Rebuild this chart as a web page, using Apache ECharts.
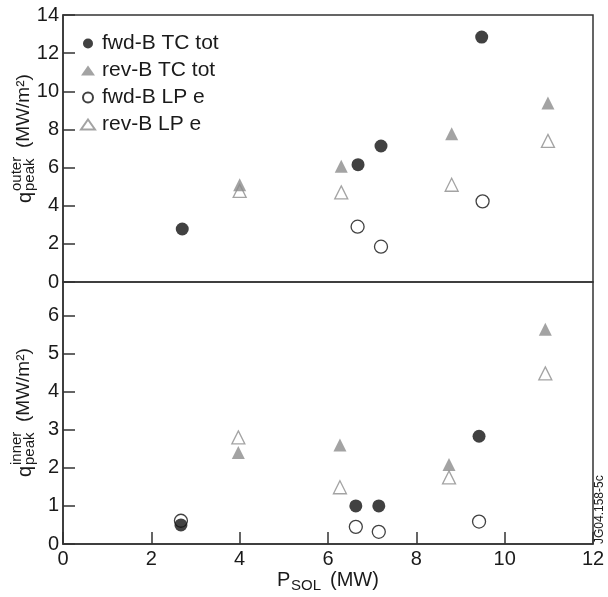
<!DOCTYPE html>
<html>
<head>
<meta charset="utf-8">
<script src="https://cdn.jsdelivr.net/npm/echarts@6/dist/echarts.min.js"></script>
<style>
html,body{margin:0;padding:0;background:#fff;}
#chart{width:608px;height:597px;}
</style>
</head>
<body>
<div id="chart"></div>
<script>
// ---- data ----
const seriesNames = ['fwd-B TC tot', 'rev-B TC tot', 'fwd-B LP e', 'rev-B LP e'];
const xTicks = [0, 2, 4, 6, 8, 10, 12];
const outerTicks = [0, 2, 4, 6, 8, 10, 12, 14];
const innerTicks = [0, 1, 2, 3, 4, 5, 6];

// outer (top panel)
const P_fwdTC_out = [2.70, 6.68, 7.20, 9.48];
const q_fwdTC_out = [2.78, 6.15, 7.13, 12.84];
const P_revTC_out = [4.00, 6.30, 8.80, 10.98];
const q_revTC_out = [5.10, 6.07, 7.77, 9.38];
const P_fwdLP_out = [6.67, 7.20, 9.50];
const q_fwdLP_out = [2.90, 1.85, 4.23];
const P_revLP_out = [4.00, 6.30, 8.80, 10.98];
const q_revLP_out = [4.78, 4.70, 5.10, 7.40];

// inner (bottom panel)
const P_fwdTC_in = [2.67, 6.63, 7.15, 9.42];
const q_fwdTC_in = [0.50, 1.00, 1.00, 2.83];
const P_revTC_in = [3.97, 6.27, 8.74, 10.92];
const q_revTC_in = [2.40, 2.60, 2.09, 5.64];
const P_fwdLP_in = [2.67, 6.63, 7.15, 9.42];
const q_fwdLP_in = [0.61, 0.45, 0.32, 0.59];
const P_revLP_in = [3.97, 6.27, 8.74, 10.92];
const q_revLP_in = [2.80, 1.49, 1.75, 4.48];

const zip = (xs, ys) => xs.map((x, i) => [x, ys[i]]);
const FONT = '"Liberation Sans", Arial, sans-serif';
const AX = '#333';
const TXT = '#1a1a1a';

const styles = [
  {symbol: 'circle', itemStyle: {color: '#111', borderWidth: 0}, z: 5},
  {symbol: 'triangle', itemStyle: {color: '#8c8c8c', borderWidth: 0}, z: 4},
  {symbol: 'circle', itemStyle: {color: '#fff', borderColor: '#111', borderWidth: 1.3}, z: 3},
  {symbol: 'triangle', itemStyle: {color: '#fff', borderColor: '#8c8c8c', borderWidth: 1.3}, z: 2}
];
const outerData = [zip(P_fwdTC_out, q_fwdTC_out), zip(P_revTC_out, q_revTC_out), zip(P_fwdLP_out, q_fwdLP_out), zip(P_revLP_out, q_revLP_out)];
const innerData = [zip(P_fwdTC_in, q_fwdTC_in), zip(P_revTC_in, q_revTC_in), zip(P_fwdLP_in, q_fwdLP_in), zip(P_revLP_in, q_revLP_in)];

const series = [];
[outerData, innerData].forEach((set, gi) => {
  set.forEach((d, i) => {
    series.push({
      type: 'scatter', name: seriesNames[i], xAxisIndex: gi, yAxisIndex: gi,
      data: d, symbol: styles[i].symbol, symbolSize: 13,
      itemStyle: styles[i].itemStyle, z: styles[i].z, emphasis: {disabled: true}, silent: true
    });
  });
});

const chart = echarts.init(document.getElementById('chart'), null, {renderer: 'canvas'});
const tickStyle = {show: true, inside: true, length: 12, lineStyle: {color: AX, width: 1.5}};
const lineStyle = {show: true, lineStyle: {color: AX, width: 1.5}};
const lab = {fontSize: 20, fontFamily: FONT, color: TXT};

chart.setOption({
  animation: false,
  backgroundColor: '#fff',
  grid: [
    {left: 63, top: 15, width: 530, height: 267, show: true, borderColor: AX, borderWidth: 1.5, backgroundColor: 'transparent'},
    {left: 63, top: 282, width: 530, height: 262, show: true, borderColor: AX, borderWidth: 1.5, backgroundColor: 'transparent'}
  ],
  xAxis: [
    {gridIndex: 0, type: 'value', min: xTicks[0], max: xTicks[xTicks.length - 1], interval: 2,
     axisLine: {show: false}, axisTick: {show: false}, axisLabel: {show: false}, splitLine: {show: false}},
    {gridIndex: 1, type: 'value', min: xTicks[0], max: xTicks[xTicks.length - 1], interval: 2,
     axisLine: lineStyle, axisTick: tickStyle, splitLine: {show: false},
     axisLabel: Object.assign({margin: 5, showMinLabel: true, showMaxLabel: true}, lab)}
  ],
  yAxis: [
    {gridIndex: 0, type: 'value', min: outerTicks[0], max: outerTicks[outerTicks.length - 1], interval: 2,
     axisLine: lineStyle, axisTick: tickStyle, splitLine: {show: false},
     axisLabel: Object.assign({margin: 4, showMinLabel: true, showMaxLabel: true}, lab)},
    {gridIndex: 1, type: 'value', min: innerTicks[0], max: 6.88, interval: 1,
     axisLine: lineStyle, axisTick: tickStyle, splitLine: {show: false},
     axisLabel: Object.assign({margin: 4, showMinLabel: true,
       formatter: v => (innerTicks.indexOf(v) >= 0 ? String(v) : '')}, lab)}
  ],
  legend: {
    data: seriesNames, orient: 'vertical', left: 80, top: 33, padding: 0,
    itemWidth: 14, itemHeight: 10, itemGap: 6, selectedMode: false,
    textStyle: {fontSize: 21, fontFamily: FONT, color: TXT, padding: [0, 0, 0, 2]}
  },
  graphic: [
    {type: 'group', x: 25, y: 203, rotation: Math.PI / 2, children: [
      {type: 'text', x: 0, y: 0, style: {text: 'q', font: '20px ' + FONT, fill: TXT, verticalAlign: 'middle'}},
      {type: 'text', x: 12, y: -8, style: {text: 'outer', font: '15px ' + FONT, fill: TXT, verticalAlign: 'middle'}},
      {type: 'text', x: 12, y: 5, style: {text: 'peak', font: '15px ' + FONT, fill: TXT, verticalAlign: 'middle'}},
      {type: 'text', x: 55, y: -1, style: {text: '(MW/m²)', font: '19px ' + FONT, fill: TXT, verticalAlign: 'middle'}}
    ]},
    {type: 'group', x: 25, y: 477, rotation: Math.PI / 2, children: [
      {type: 'text', x: 0, y: 0, style: {text: 'q', font: '20px ' + FONT, fill: TXT, verticalAlign: 'middle'}},
      {type: 'text', x: 12, y: -8, style: {text: 'inner', font: '15px ' + FONT, fill: TXT, verticalAlign: 'middle'}},
      {type: 'text', x: 12, y: 5, style: {text: 'peak', font: '15px ' + FONT, fill: TXT, verticalAlign: 'middle'}},
      {type: 'text', x: 55, y: -1, style: {text: '(MW/m²)', font: '19px ' + FONT, fill: TXT, verticalAlign: 'middle'}}
    ]},
    {type: 'group', x: 277, y: 580, children: [
      {type: 'text', x: 0, y: 0, style: {text: 'P', font: '20px ' + FONT, fill: TXT, verticalAlign: 'middle'}},
      {type: 'text', x: 14, y: 6, style: {text: 'SOL', font: '15px ' + FONT, fill: TXT, verticalAlign: 'middle'}},
      {type: 'text', x: 53, y: 0, style: {text: '(MW)', font: '20px ' + FONT, fill: TXT, verticalAlign: 'middle'}}
    ]},
    {type: 'text', x: 600, y: 544, rotation: Math.PI / 2,
     style: {text: 'JG04.158-5c', font: '12px ' + FONT, fill: TXT, verticalAlign: 'middle', align: 'left'}}
  ],
  series: series
});
</script>
</body>
</html>
